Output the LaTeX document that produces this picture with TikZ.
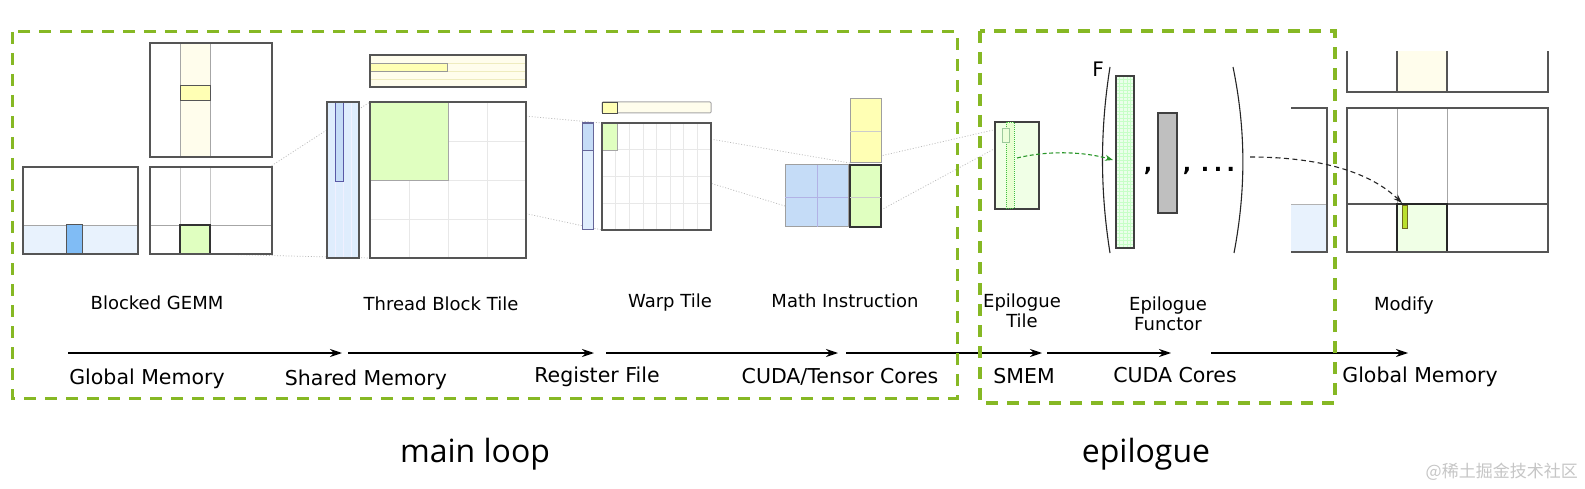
\documentclass[tikz,border=0pt]{standalone}
\usepackage{fontspec}
\setmainfont{DejaVu Sans}
\newfontfamily\bigfont{Open Sans}
\newfontfamily\cjkfont{Noto Sans CJK SC}
\usetikzlibrary{arrows.meta}
\definecolor{nvg}{RGB}{134,184,36}
\definecolor{matc}{RGB}{85,85,85}
\definecolor{lblue}{RGB}{232,242,253}
\definecolor{mblue}{RGB}{128,188,245}
\definecolor{pblue}{RGB}{223,237,253}
\definecolor{dblue}{RGB}{197,220,247}
\definecolor{fyel}{RGB}{255,253,236}
\definecolor{syel}{RGB}{255,255,180}
\definecolor{lgreen}{RGB}{224,255,192}
\definecolor{pgreen}{RGB}{240,255,230}
\definecolor{gridc}{RGB}{232,232,232}
\definecolor{arrg}{RGB}{40,150,40}
\tikzset{
  mat/.style={draw=matc, line width=1.3pt},
  thin/.style={draw=gray!70, line width=0.8pt},
  faint/.style={draw=gridc, line width=0.8pt},
  dotl/.style={draw=gray!55, line width=0.7pt, dash pattern=on 1pt off 1.8pt},
  lbl/.style={font=\fontsize{18}{21}\selectfont, anchor=base, inner sep=0pt},
  mem/.style={font=\fontsize{20.5}{24}\selectfont, anchor=base, inner sep=0pt},
  flow/.style={-{Stealth[length=12pt,width=8pt]}, line width=1.4pt},
  region/.style={draw=nvg, line width=3pt, dash pattern=on 12pt off 9pt},
}
\begin{document}
\begin{tikzpicture}[x=1pt,y=-1pt]
\useasboundingbox (0,0) rectangle (1585,489);
\fill[white] (0,0) rectangle (1585,489);

% ---------- connector end points ----------
\coordinate (gT) at (180,225);
\coordinate (gB) at (210,254);
\coordinate (tTL) at (370,102);
\coordinate (tBL) at (370,258);
\coordinate (tG) at (370,180);
\coordinate (wTL) at (602,123);
\coordinate (wBL) at (602,230);
\coordinate (wGT) at (617,123);
\coordinate (wGB) at (602,150);
\coordinate (mB) at (850,163);
\coordinate (mA) at (785,206);
\coordinate (mC) at (881,210);
\coordinate (eT) at (1002,128);
\coordinate (eB) at (1005,143);

% dotted zoom lines (behind the tiles)
\draw[dotl] (gT) -- (tTL);
\draw[dotl] (gB) -- (tBL);
\draw[dotl] (tTL) -- (wTL);
\draw[dotl] (tG) -- (wBL);
\draw[dotl] (wGT) -- (mB);
\draw[dotl] (wGB) -- (mA);
\draw[dotl] (mB) -- (eT);
\draw[dotl] (mC) -- (eB);

% ---------- Blocked GEMM ----------
% B
\fill[white] (150,43) rectangle (272,157);
\fill[fyel] (180,43) rectangle (210,157);
\draw[thin] (180,43) -- (180,157) (210,43) -- (210,157);
\draw[draw=matc, line width=1pt, fill=syel] (180,86) rectangle (210,101);
\draw[mat] (150,43) rectangle (272,157);
% A
\fill[white] (23,167) rectangle (138,254);
\fill[lblue] (23,225) rectangle (138,254);
\draw[thin] (23,225) -- (138,225);
\draw[draw=matc, line width=1pt, fill=mblue] (66,225) rectangle (82,254);
\draw[mat] (23,167) rectangle (138,254);
% C
\fill[white] (150,167) rectangle (272,254);
\draw[draw=gray!45, line width=0.8pt] (180,167) -- (180,225) (210,167) -- (210,225);
\draw[thin] (150,225) -- (272,225);
\draw[draw=black!80, line width=1.4pt, fill=lgreen] (180,225) rectangle (210,254);
\draw[mat] (150,167) rectangle (272,254);

% ---------- Thread Block Tile ----------
% A panel
\fill[pblue] (327,102) rectangle (359,258);
\draw[draw=white!80!blue!30, line width=0.6pt] (335,102) -- (335,258) (343,102) -- (343,258) (351,102) -- (351,258);
\draw[draw=gray!70!blue, line width=0.8pt, fill=dblue] (335,102) rectangle (343,181);
\draw[mat] (327,102) rectangle (359,258);
% B panel
\fill[fyel] (370,55) rectangle (526,87);
\draw[draw=yellow!20!gridc, line width=0.6pt] (370,63) -- (526,63) (370,71) -- (526,71) (370,79) -- (526,79);
\draw[draw=gray!80, line width=0.8pt, fill=syel] (370,63) rectangle (447,71);
\draw[draw=matc, line width=1.1pt] (370,55) rectangle (526,87);
% C
\fill[white] (370,102) rectangle (526,258);
\foreach \x in {409,448,487} \draw[faint] (\x,102) -- (\x,258);
\foreach \y in {141,180,219} \draw[faint] (370,\y) -- (526,\y);
\draw[draw=gray!70, line width=0.8pt, fill=lgreen] (370,102) rectangle (448,180);
\draw[mat] (370,102) rectangle (526,258);

% ---------- Warp Tile ----------
\fill[pblue] (582,123) rectangle (593,230);
\draw[draw=gray!80!blue, line width=0.8pt, fill=dblue] (582,123) rectangle (593,150);
\draw[draw=gray!80!blue, line width=1pt] (582,123) rectangle (593,230);
\draw[draw=gray!70, line width=1pt, fill=fyel, rounded corners=1pt] (602,102) rectangle (711,113);
\draw[draw=black!70, line width=0.8pt, fill=syel] (602,102) rectangle (617,113);
\fill[white] (602,123) rectangle (711,230);
\foreach \x in {615.6,629.2,642.9,656.5,670.1,683.7,697.4} \draw[faint] (\x,123) -- (\x,230);
\foreach \y in {149.8,176.5,203.3} \draw[faint] (602,\y) -- (711,\y);
\draw[draw=gray!70, line width=0.8pt, fill=lgreen] (602,123) rectangle (617,150);
\draw[mat] (602,123) rectangle (711,230);

% ---------- Math Instruction ----------
\draw[draw=gray!75, line width=1pt, fill=syel] (850,99) rectangle (881,163);
\draw[draw=gray!40, line width=0.6pt] (850,131) -- (881,131);
\draw[draw=gray!75, line width=1pt, fill=dblue] (785,165) rectangle (848,227);
\draw[draw=gray!50!blue!40, line width=0.6pt] (817,165) -- (817,227) (785,197) -- (848,197);
\draw[draw=black!80, line width=1.2pt, fill=lgreen] (850,165) rectangle (881,227);
\draw[draw=gray!40, line width=0.6pt] (850,197) -- (881,197);

% ---------- Epilogue Tile ----------
\draw[draw=black!75, line width=1.3pt, fill=pgreen] (995,122) rectangle (1039,209);
\draw[draw=green!50!gray, line width=0.7pt, dash pattern=on 1pt off 1pt, fill=lgreen!70!white] (1006,122) rectangle (1014,208);
\draw[draw=green!30!gray!60, line width=0.5pt, fill=lgreen!60!white] (1002,128) rectangle (1009,142);

% ---------- Epilogue Functor ----------
\node[font=\fontsize{20}{24}\selectfont, inner sep=0pt] (F) at (1098,69) {F};
\draw[line width=1.1pt, black!85] (1110,67) .. controls (1100,130) and (1100,190) .. (1110,253);
\draw[line width=1.1pt, black!85] (1233,67) .. controls (1246,130) and (1246,190) .. (1234,253);
\fill[green!8!white] (1116,76) rectangle (1134,248);
\foreach \x in {1119.6,1123.2,1126.8,1130.4} \draw[draw=green!22!white, line width=0.4pt] (\x,76) -- (\x,248);
\foreach \y in {79.5,83,...,246} \draw[draw=green!22!white, line width=0.4pt] (1116,\y) -- (1134,\y);
\draw[draw=black!75, line width=1.2pt] (1116,76) rectangle (1134,248);
\draw[draw=black!75, line width=1.2pt, fill=gray!50] (1158,113) rectangle (1177,213);
\node[font=\bfseries\fontsize{22}{26}\selectfont, inner sep=0pt, anchor=base] (c1) at (1148,172) {,};
\node[font=\bfseries\fontsize{22}{26}\selectfont, inner sep=0pt, anchor=base] (c2) at (1187,172) {,};
\node[font=\bfseries\fontsize{22}{26}\selectfont, inner sep=0pt, anchor=base] (dots) at (1218,172) {.\hspace{4.5pt}.\hspace{4.5pt}.};

% ---------- left part of the output matrix ----------
\fill[lblue] (1291,204) rectangle (1327,252);
\draw[draw=gray!60, line width=0.8pt] (1291,204) -- (1327,204);
\draw[mat] (1291,108) -- (1327,108) -- (1327,252) -- (1291,252);

% ---------- Modify ----------
\fill[fyel] (1397,51) rectangle (1447,92);
\draw[mat] (1347,51) -- (1347,92) -- (1548,92) -- (1548,51);
\draw[mat] (1397,51) -- (1397,92) (1447,51) -- (1447,92);
\fill[white] (1347,108) rectangle (1548,252);
\draw[thin] (1397,108) -- (1397,204) (1447,108) -- (1447,204);
\draw[mat] (1347,204) -- (1548,204);
\draw[draw=black!85, line width=1.4pt, fill=pgreen] (1397,204) rectangle (1447,252);
\draw[draw=olive!70!black, line width=0.8pt, fill=yellow!70!green!90!white] (1402,205) rectangle (1407,228);
\draw[mat] (1347,108) rectangle (1548,252);

% ---------- curved data arrows ----------
\coordinate (s1) at (1017,158);
\coordinate (t1) at (1113,160);
\draw[arrg, line width=1.1pt, dash pattern=on 4pt off 2.5pt, -{Stealth[length=8pt,width=6pt]}] (s1) .. controls (1050,150) and (1085,152) .. (t1);
\coordinate (s2) at (1250,157);
\coordinate (t2) at (1402,203);
\draw[black!85, line width=1.1pt, dash pattern=on 5pt off 3.5pt, -{Stealth[length=9pt,width=6pt]}] (s2) .. controls (1320,157) and (1370,172) .. (t2);

% ---------- stage labels ----------
\node[lbl] (l1) at (157,309) {Blocked GEMM};
\node[lbl] (l2) at (441,310) {Thread Block Tile};
\node[lbl] (l3) at (670,307) {Warp Tile};
\node[lbl] (l4) at (845,307) {Math Instruction};
\node[lbl] (l5a) at (1022,307) {Epilogue};
\node[lbl] (l5b) at (1022,327) {Tile};
\node[lbl] (l6a) at (1168,310) {Epilogue};
\node[lbl] (l6b) at (1168,330) {Functor};
\node[lbl] (l7) at (1404,310) {Modify};

% ---------- memory flow ----------
\coordinate (a0) at (68,353);   \coordinate (a1) at (342,353);
\coordinate (a2) at (348,353);  \coordinate (a3) at (594,353);
\coordinate (a4) at (606,353);  \coordinate (a5) at (838,353);
\coordinate (a6) at (846,353);  \coordinate (a7) at (1042,353);
\coordinate (a8) at (1047,353); \coordinate (a9) at (1171,353);
\coordinate (a10) at (1211,353); \coordinate (a11) at (1408,353);
\draw[flow] (a0) -- (a1);
\draw[flow] (a2) -- (a3);
\draw[flow] (a4) -- (a5);
\draw[flow] (a6) -- (a7);
\draw[flow] (a8) -- (a9);
\draw[flow] (a10) -- (a11);

\node[mem] (m1) at (147,384) {Global Memory};
\node[mem] (m2) at (366,385) {Shared Memory};
\node[mem] (m3) at (597,382) {Register File};
\node[mem] (m4) at (840,383) {CUDA/Tensor Cores};
\node[mem] (m5) at (1024,383) {SMEM};
\node[mem] (m6) at (1175,382) {CUDA Cores};
\node[mem] (m7) at (1420,382) {Global Memory};

% ---------- regions ----------
\draw[region] (12,32) rectangle (957,398);
\draw[region, line width=3.4pt] (980,31) rectangle (1335,403);
\node[font=\bigfont\fontsize{32}{38}\selectfont, anchor=base, inner sep=0pt] (ml) at (475,462) {main loop};
\node[font=\bigfont\fontsize{32}{38}\selectfont, anchor=base, inner sep=0pt] (ep) at (1146,462) {epilogue};

% watermark
\node[font=\cjkfont\fontsize{17}{20}\selectfont, text=gray!45, anchor=base east, inner sep=0pt] (wm) at (1578,477) {@稀土掘金技术社区};
\end{tikzpicture}
\end{document}
